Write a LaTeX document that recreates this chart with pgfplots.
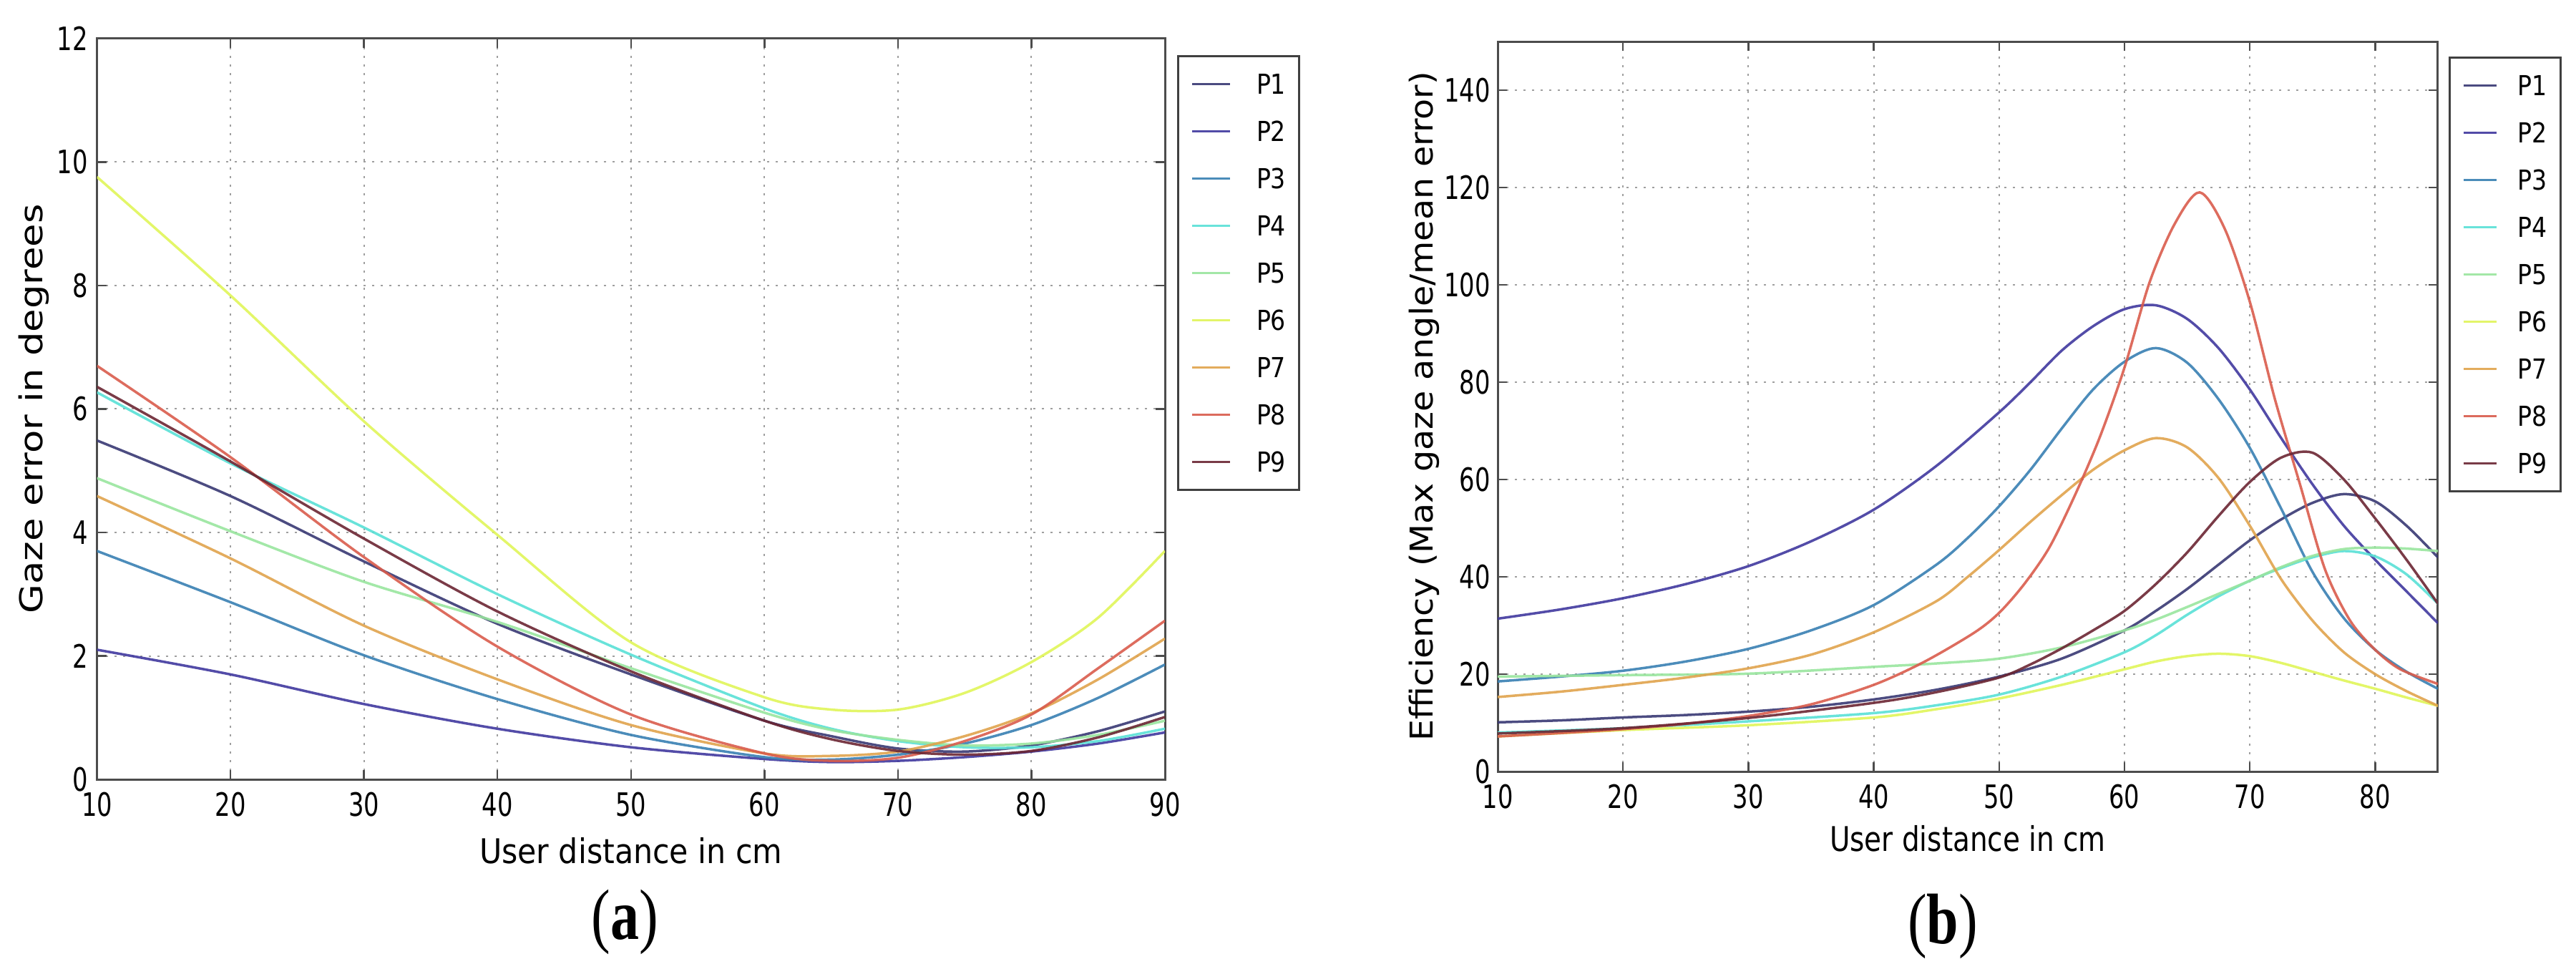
\documentclass[border=0pt]{standalone}
\usepackage{fontspec}
\usepackage{pgfplots}
\pgfplotsset{compat=1.18}
\setmainfont{DejaVu Sans}
\newfontfamily\tickfont{DejaVu Sans}[FakeStretch=0.75]
\newfontfamily\labfontA{DejaVu Sans}[FakeStretch=0.9]
\newfontfamily\labfontB{DejaVu Sans}[FakeStretch=0.82]
\newfontfamily\ylabfontA{DejaVu Sans}[FakeStretch=1.2]
\newfontfamily\ylabfontB{DejaVu Sans}[FakeStretch=1.08]
\newfontfamily\legfont{DejaVu Sans}[FakeStretch=0.86]
\newfontfamily\captfont{Liberation Serif}[FakeStretch=0.8]

\definecolor{c1}{rgb}{0.22,0.22,0.45}
\definecolor{c2}{rgb}{0.25,0.22,0.62}
\definecolor{c3}{rgb}{0.22,0.5,0.7}
\definecolor{c4}{rgb}{0.35,0.88,0.84}
\definecolor{c5}{rgb}{0.6,0.9,0.62}
\definecolor{c6}{rgb}{0.88,0.96,0.35}
\definecolor{c7}{rgb}{0.88,0.64,0.3}
\definecolor{c8}{rgb}{0.85,0.36,0.3}
\definecolor{c9}{rgb}{0.42,0.15,0.2}

\pgfplotsset{
  mystyle/.style={
    scale only axis,
    /pgf/number format/assume math mode=true,
    axis line style={black!70, line width=0.6pt},
    tick align=inside, xtick pos=both, ytick pos=both,
    xticklabel pos=lower, yticklabel pos=left,
    major tick length=2.6pt, tick style={black!70, line width=0.5pt},
    grid=major, grid style={gray!75, line width=0.4pt, dash pattern=on 0.6pt off 1.8pt},
    ticklabel style={font=\tickfont\fontsize{9}{9}\selectfont, inner sep=0pt},
    xticklabel style={yshift=-3.4pt},
    every axis plot/.append style={line width=0.7pt, smooth, draw opacity=0.9},
    legend cell align=left,
  },
  myleg/.style 2 args={
    legend style={at={(1,1)}, anchor=north west, xshift=#1, yshift=#2,
      draw=black!75, line width=0.6pt, fill=white,
      inner xsep=3.6pt, inner ysep=5pt, row sep=7.6pt,
      font=\legfont\fontsize{7.7}{8}\selectfont,
      nodes={inner sep=0pt, text height=5.6pt, text depth=0pt},
      cells={anchor=west}},
  },
}

\begin{document}
\begin{tikzpicture}
\path[use as bounding box] (0pt,0pt) rectangle (720pt,270.6pt);

% ---------------- (a) ----------------
\begin{axis}[mystyle,
  at={(27.1pt,52.8pt)}, anchor=south west,
  width=298.5pt, height=207pt,
  xmin=10, xmax=90, ymin=0, ymax=12,
  xtick={10,20,...,90}, ytick={0,2,...,12},
  yticklabel style={xshift=-2.4pt},
  xlabel={User distance in cm}, ylabel={Gaze error in degrees},
  xlabel style={at={(axis description cs:0.5,-0.0773)}, anchor=north, inner sep=0pt, font=\labfontA\fontsize{9.5}{10}\selectfont},
  ylabel style={at={(axis description cs:-0.0593,0.5)}, anchor=center, inner sep=0pt, font=\ylabfontA\fontsize{8.8}{9}\selectfont},
  myleg={3.4pt}{-4.6pt},
  legend style={column sep=7pt},
  legend image code/.code={\draw[#1, line width=0.7pt] (0pt,0pt) -- (10.6pt,0pt);},
]
\addplot[c1] coordinates {(10,5.49)(20,4.59)(30,3.53)(40,2.52)(50,1.70)(60,0.95)(65,0.70)(70,0.50)(75,0.45)(80,0.55)(85,0.78)(90,1.10)};
\addlegendentry{P1}
\addplot[c2] coordinates {(10,2.10)(20,1.70)(30,1.22)(40,0.82)(50,0.52)(60,0.33)(65,0.28)(70,0.30)(75,0.36)(80,0.45)(85,0.58)(90,0.76)};
\addlegendentry{P2}
\addplot[c3] coordinates {(10,3.70)(20,2.87)(30,2.01)(40,1.30)(50,0.72)(60,0.36)(65,0.32)(70,0.40)(75,0.58)(80,0.88)(85,1.32)(90,1.86)};
\addlegendentry{P3}
\addplot[c4] coordinates {(10,6.27)(20,5.12)(30,4.08)(40,3.00)(50,2.02)(60,1.15)(65,0.82)(70,0.62)(75,0.52)(80,0.52)(85,0.62)(90,0.82)};
\addlegendentry{P4}
\addplot[c5] coordinates {(10,4.88)(20,4.02)(30,3.20)(40,2.55)(50,1.80)(60,1.08)(65,0.80)(70,0.64)(75,0.55)(80,0.58)(85,0.72)(90,0.95)};
\addlegendentry{P5}
\addplot[c6] coordinates {(10,9.76)(20,7.84)(30,5.80)(40,3.96)(50,2.22)(60,1.33)(65,1.13)(70,1.13)(75,1.40)(80,1.90)(85,2.62)(90,3.70)};
\addlegendentry{P6}
\addplot[c7] coordinates {(10,4.59)(20,3.58)(30,2.49)(40,1.62)(50,0.88)(60,0.42)(65,0.38)(70,0.45)(75,0.70)(80,1.07)(85,1.62)(90,2.28)};
\addlegendentry{P7}
\addplot[c8] coordinates {(10,6.70)(20,5.22)(30,3.60)(40,2.15)(50,1.05)(60,0.42)(65,0.30)(70,0.35)(75,0.62)(80,1.05)(85,1.80)(90,2.57)};
\addlegendentry{P8}
\addplot[c9] coordinates {(10,6.36)(20,5.15)(30,3.90)(40,2.72)(50,1.75)(60,0.95)(65,0.65)(70,0.46)(75,0.40)(80,0.46)(85,0.68)(90,1.01)};
\addlegendentry{P9}
\end{axis}

% ---------------- (b) ----------------
\begin{axis}[mystyle,
  at={(418.6pt,55pt)}, anchor=south west,
  width=262.8pt, height=204pt,
  xmin=10, xmax=85, ymin=0, ymax=150,
  xtick={10,20,...,80}, ytick={0,20,...,140},
  yticklabel style={xshift=-1.9pt},
  xlabel={User distance in cm}, ylabel={Efficiency (Max gaze angle/mean error)},
  xlabel style={at={(axis description cs:0.5,-0.0725)}, anchor=north, inner sep=0pt, font=\labfontB\fontsize{9.5}{10}\selectfont},
  ylabel style={at={(axis description cs:-0.0784,0.5)}, anchor=center, inner sep=0pt, font=\ylabfontB\fontsize{8.8}{9}\selectfont},
  myleg={3pt}{-4.2pt},
  legend style={column sep=5.6pt},
  legend image code/.code={\draw[#1, line width=0.7pt] (0pt,0pt) -- (9.2pt,0pt);},
]
\addplot[c1] coordinates {(10,10.1)(15,10.5)(20,11.1)(25,11.6)(30,12.3)(35,13.3)(40,14.8)(45,16.8)(50,19.5)(55,23.2)(60,29)(62.5,33)(65,37.5)(67.5,42.5)(70,47.5)(72.5,51.8)(75,55.2)(77.5,57)(80,55.5)(82.5,50.5)(85,44)};
\addlegendentry{P1}
\addplot[c2] coordinates {(10,31.4)(15,33.3)(20,35.6)(25,38.5)(30,42.2)(35,47.3)(40,53.8)(45,62.8)(50,73.8)(52.5,80)(55,86.5)(57.5,91.5)(60,95)(62.5,95.8)(65,93)(67.5,87)(70,78.5)(72.5,68.5)(75,59)(77.5,50.5)(80,43.5)(82.5,37)(85,30.5)};
\addlegendentry{P2}
\addplot[c3] coordinates {(10,18.5)(15,19.5)(20,20.7)(25,22.6)(30,25.2)(35,29)(40,34.2)(45,42.5)(47.5,48)(50,54.5)(52.5,62)(55,70.5)(57.5,78.5)(60,84.2)(62.5,87)(65,84)(67.5,76.5)(70,66.5)(72.5,54)(75,41)(77.5,31.5)(80,25)(82.5,20.5)(85,17)};
\addlegendentry{P3}
\addplot[c4] coordinates {(10,8.0)(20,8.9)(30,10.3)(40,12.0)(45,13.6)(50,15.8)(55,19.5)(60,24.5)(62.5,28)(65,32.2)(67.5,36)(70,39.2)(72.5,41.8)(75,44)(77.5,45.3)(80,44.2)(82.5,40.5)(85,34.5)};
\addlegendentry{P4}
\addplot[c5] coordinates {(10,19.5)(20,19.8)(30,20.1)(40,21.5)(45,22.2)(50,23.2)(55,25.5)(60,29)(62.5,31.2)(65,33.8)(67.5,36.5)(70,39.2)(72.5,42)(75,44.3)(77.5,45.7)(80,46)(82.5,45.8)(85,45.3)};
\addlegendentry{P5}
\addplot[c6] coordinates {(10,7.2)(20,8.5)(30,9.5)(40,11.1)(45,12.8)(50,15.0)(55,17.8)(60,21)(62.5,22.6)(65,23.7)(67.5,24.2)(70,23.7)(72.5,22.3)(75,20.5)(77.5,18.7)(80,17)(82.5,15.2)(85,13.5)};
\addlegendentry{P6}
\addplot[c7] coordinates {(10,15.3)(15,16.4)(20,17.8)(25,19.3)(30,21.2)(35,24)(40,28.6)(45,35)(47.5,40)(50,45.5)(52.5,51.3)(55,56.8)(57.5,62)(60,66)(62.5,68.5)(65,66.6)(67.5,60.3)(70,50.5)(72.5,39.5)(75,31)(77.5,24.5)(80,20)(82.5,16.5)(85,13.5)};
\addlegendentry{P7}
\addplot[c8] coordinates {(10,7.2)(15,7.9)(20,8.7)(25,9.8)(30,11.4)(35,13.8)(40,17.8)(44,22.5)(48,28.5)(50,32.6)(52,38.5)(54,46)(56,56.5)(58,68.5)(60,83)(62,100.5)(64,112.5)(66,119)(68,111.5)(70,96.5)(72,76.5)(74,59)(76,41.5)(78,31)(80,25)(82,21)(85,18)};
\addlegendentry{P8}
\addplot[c9] coordinates {(10,7.8)(20,8.9)(30,11.0)(40,14.1)(45,16.3)(50,19.3)(52.5,22)(55,25.3)(57.5,29)(60,33)(62.5,38.5)(65,45)(67.5,52.5)(70,59.5)(72.5,64.5)(75,65.5)(77.5,60)(80,52)(82.5,43.5)(85,34.5)};
\addlegendentry{P9}
\end{axis}

\node[font=\captfont\fontsize{20}{20}\selectfont, inner sep=0pt] at (174.6pt,13pt) {(\textbf{a})};
\node[font=\captfont\fontsize{20}{20}\selectfont, inner sep=0pt] at (543pt,11.8pt) {(\textbf{b})};
\end{tikzpicture}
\end{document}
